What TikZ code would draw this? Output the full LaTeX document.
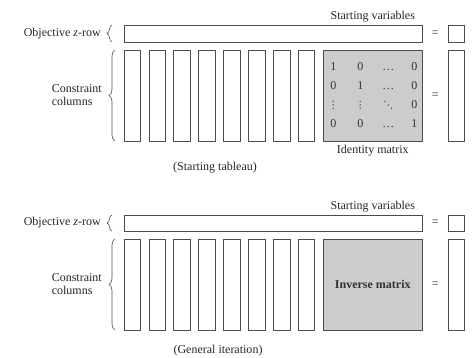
\documentclass[tikz,border=0pt]{standalone}
\usepackage{fontspec}
\setmainfont{Liberation Serif}
\newfontfamily\dotsfont{DejaVu Sans}
\usepackage{tikz}
\usetikzlibrary{positioning,calc,decorations.pathreplacing}

\begin{document}
\begin{tikzpicture}[
  x=1pt, y=1pt,
  box/.style={draw=black!70, line width=0.7pt, inner sep=0pt, outer sep=0pt},
  colbox/.style={box, minimum width=16.5pt, minimum height=91pt},
  rowbox/.style={box, minimum width=298pt, minimum height=17pt},
  matbox/.style={box, fill=black!20, minimum width=99pt, minimum height=91pt,
                 font=\fontsize{12}{13}\selectfont, text=black!80},
  brc/.style={decorate, decoration={brace, amplitude=5pt},
              draw=black!70, line width=0.6pt},
  lbl/.style={font=\fontsize{12}{13}\selectfont, text=black!85, inner sep=0pt}
]
\useasboundingbox (0,0) rectangle (473,-358);

% Starting tableau
\node[rowbox, anchor=north west] (zrow_s) at (124,-25) {};
\node[colbox, anchor=north west] (col1_s) at (124,-50) {};
\node[colbox, right=8.4pt of col1_s] (col2_s) {};
\node[colbox, right=8.4pt of col2_s] (col3_s) {};
\node[colbox, right=8.4pt of col3_s] (col4_s) {};
\node[colbox, right=8.4pt of col4_s] (col5_s) {};
\node[colbox, right=8.4pt of col5_s] (col6_s) {};
\node[colbox, right=8.4pt of col6_s] (col7_s) {};
\node[colbox, right=8.4pt of col7_s] (col8_s) {};
\node[matbox, right=8.5pt of col8_s] (ident_s) {%
  \renewcommand{\arraystretch}{1.45}\setlength{\tabcolsep}{8.5pt}%
  \begin{tabular}{@{}cccc@{}}
    1 & 0 & \ldots & 0\\
    0 & 1 & \ldots & 0\\
    {\dotsfont\fontsize{10}{12}\selectfont ⋮} & {\dotsfont\fontsize{10}{12}\selectfont ⋮} & {\dotsfont\fontsize{10}{12}\selectfont ⋱} & 0\\
    0 & 0 & \ldots & 1
  \end{tabular}};
\node[colbox, right=26pt of ident_s] (rhs_s) {};
\node[colbox, minimum height=17pt, above=8pt of rhs_s] (rhsz_s) {};
\node[lbl] (eq_s) at ($(ident_s.east)!0.5!(rhs_s.west)$) {=};
\node[lbl] (eqz_s) at ($(zrow_s.east)!0.5!(rhsz_s.west)$) {=};

\coordinate (svpt_s) at (zrow_s.north -| ident_s.north);
\node[lbl, above=3pt of svpt_s] (sv_s) {Starting variables};
\node[lbl, below=4pt of ident_s] (idlbl_s) {Identity matrix};

\node[lbl, left=23pt of zrow_s] (obj_s) {Objective \textit{z}-row};
\draw[brc] ([xshift=-12pt]zrow_s.south west) -- ([xshift=-12pt]zrow_s.north west);
\node[lbl, align=left, left=22pt of col1_s] (con_s) {Constraint\\columns};
\draw[brc, decoration={amplitude=6pt}] ([xshift=-9pt]col1_s.south west) -- ([xshift=-9pt]col1_s.north west);

\node[lbl] (cap_s) at (215,-168) {(Starting tableau)};

% General iteration
\node[rowbox, minimum height=16pt, anchor=north west] (zrow_g) at (124,-215) {};
\node[colbox, anchor=north west] (col1_g) at (124,-239) {};
\node[colbox, right=8.4pt of col1_g] (col2_g) {};
\node[colbox, right=8.4pt of col2_g] (col3_g) {};
\node[colbox, right=8.4pt of col3_g] (col4_g) {};
\node[colbox, right=8.4pt of col4_g] (col5_g) {};
\node[colbox, right=8.4pt of col5_g] (col6_g) {};
\node[colbox, right=8.4pt of col6_g] (col7_g) {};
\node[colbox, right=8.4pt of col7_g] (col8_g) {};
\node[matbox, right=8.5pt of col8_g] (inv_g) {\bfseries Inverse matrix};
\node[colbox, right=26pt of inv_g] (rhs_g) {};
\node[colbox, minimum height=16pt, above=8pt of rhs_g] (rhsz_g) {};
\node[lbl] (eq_g) at ($(inv_g.east)!0.5!(rhs_g.west)$) {=};
\node[lbl] (eqz_g) at ($(zrow_g.east)!0.5!(rhsz_g.west)$) {=};

\coordinate (svpt_g) at (zrow_g.north -| inv_g.north);
\node[lbl, above=3pt of svpt_g] (sv_g) {Starting variables};

\node[lbl, left=23pt of zrow_g] (obj_g) {Objective \textit{z}-row};
\draw[brc] ([xshift=-12pt]zrow_g.south west) -- ([xshift=-12pt]zrow_g.north west);
\node[lbl, align=left, left=22pt of col1_g] (con_g) {Constraint\\columns};
\draw[brc, decoration={amplitude=6pt}] ([xshift=-9pt]col1_g.south west) -- ([xshift=-9pt]col1_g.north west);

\node[lbl] (cap_g) at (218,-351) {(General iteration)};

\end{tikzpicture}
\end{document}
